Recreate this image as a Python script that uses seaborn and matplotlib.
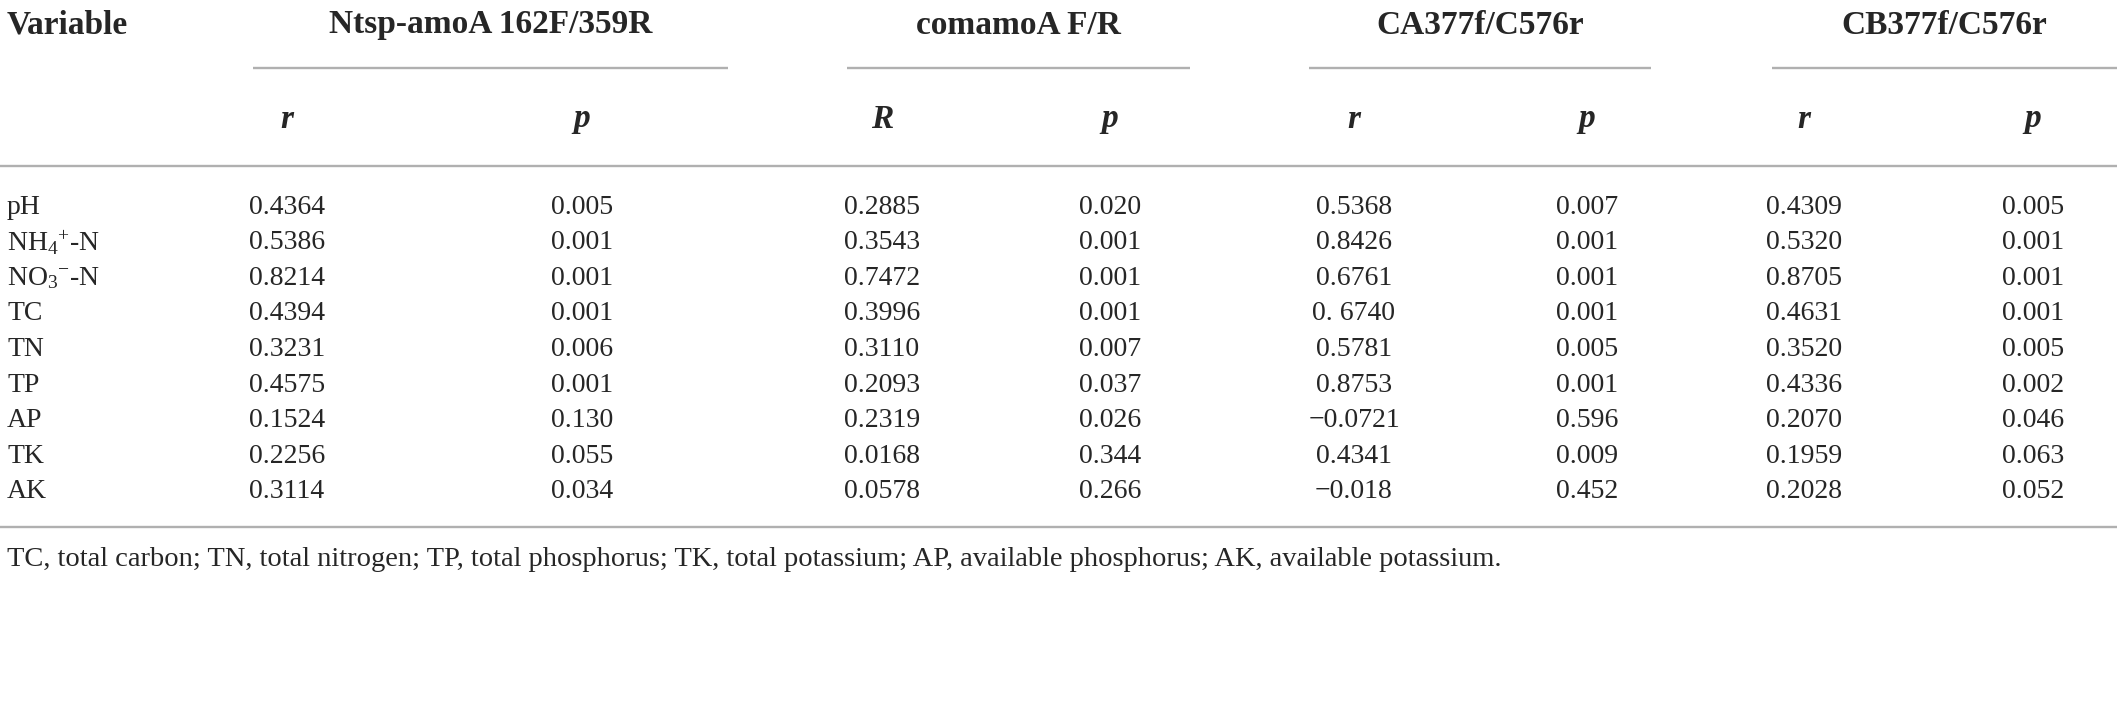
import matplotlib
matplotlib.use('Agg')
import matplotlib.pyplot as plt
import seaborn as sns

variables = ['pH', r'NH$_4$$^{+}$-N', r'NO$_3$$^{-}$-N', 'TC', 'TN', 'TP', 'AP', 'TK', 'AK']

primers = ['Ntsp-amoA 162F/359R', 'comamoA F/R', 'CA377f/C576r', 'CB377f/C576r']
stat_labels = [['r', 'p'], ['R', 'p'], ['r', 'p'], ['r', 'p']]

ntsp_r = ['0.4364', '0.5386', '0.8214', '0.4394', '0.3231', '0.4575', '0.1524', '0.2256', '0.3114']
ntsp_p = ['0.005', '0.001', '0.001', '0.001', '0.006', '0.001', '0.130', '0.055', '0.034']
comamo_r = ['0.2885', '0.3543', '0.7472', '0.3996', '0.3110', '0.2093', '0.2319', '0.0168', '0.0578']
comamo_p = ['0.020', '0.001', '0.001', '0.001', '0.007', '0.037', '0.026', '0.344', '0.266']
ca_r = ['0.5368', '0.8426', '0.6761', '0. 6740', '0.5781', '0.8753', '\u22120.0721', '0.4341', '\u22120.018']
ca_p = ['0.007', '0.001', '0.001', '0.001', '0.005', '0.001', '0.596', '0.009', '0.452']
cb_r = ['0.4309', '0.5320', '0.8705', '0.4631', '0.3520', '0.4336', '0.2070', '0.1959', '0.2028']
cb_p = ['0.005', '0.001', '0.001', '0.001', '0.005', '0.002', '0.046', '0.063', '0.052']

footnote = ('TC, total carbon; TN, total nitrogen; TP, total phosphorus; TK, total potassium; '
            'AP, available phosphorus; AK, available potassium.')

columns = [ntsp_r, ntsp_p, comamo_r, comamo_p, ca_r, ca_p, cb_r, cb_p]

# layout (pixels)
W, H = 2117, 717
col_x = [287, 582, 882, 1110, 1354, 1587, 1804, 2033]
group_lines = [(253, 728), (847, 1190), (1309, 1651), (1772, 2117)]
y_head, y_gline, y_stat, y_rule = 25, 68, 119, 166
y_rows0, dy = 207, 35.6
y_bottom, y_foot = 527, 560

sns.set_theme(style='white')
plt.rcParams['font.family'] = ['Liberation Serif', 'DejaVu Serif']
plt.rcParams['mathtext.fontset'] = 'custom'
plt.rcParams['mathtext.rm'] = 'Liberation Serif'
plt.rcParams['mathtext.it'] = 'Liberation Serif:italic'

fig = plt.figure(figsize=(W / 100, H / 100), dpi=100)
ax = fig.add_axes([0, 0, 1, 1])
ax.set_xlim(0, W)
ax.set_ylim(H, 0)
ax.axis('off')

rule_col = '#b0b0b0'
data_fs = 20
head_fs = 24

ax.text(7, y_head, 'Variable', ha='left', va='center', fontsize=head_fs, fontweight='bold')
for g, name in enumerate(primers):
    x0, x1 = group_lines[g]
    ax.text((x0 + x1) / 2, y_head, name, ha='center', va='center', fontsize=head_fs, fontweight='bold')
    ax.hlines(y_gline, x0, x1, color=rule_col, lw=1.7)
    for k, lab in enumerate(stat_labels[g]):
        ax.text(col_x[2 * g + k], y_stat, lab, ha='center', va='center', fontsize=head_fs,
                fontweight='bold', style='italic')

ax.hlines(y_rule, 0, W, color=rule_col, lw=1.7)

for i, var in enumerate(variables):
    y = y_rows0 + i * dy
    ax.text(7, y, var, ha='left', va='center', fontsize=data_fs)
    for c, vals in enumerate(columns):
        ax.text(col_x[c], y, vals[i], ha='center', va='center', fontsize=data_fs)

ax.hlines(y_bottom, 0, W, color=rule_col, lw=1.7)
ax.text(7, y_foot, footnote, ha='left', va='center', fontsize=20.5)

fig.savefig('out.png', dpi=100, facecolor='white')
